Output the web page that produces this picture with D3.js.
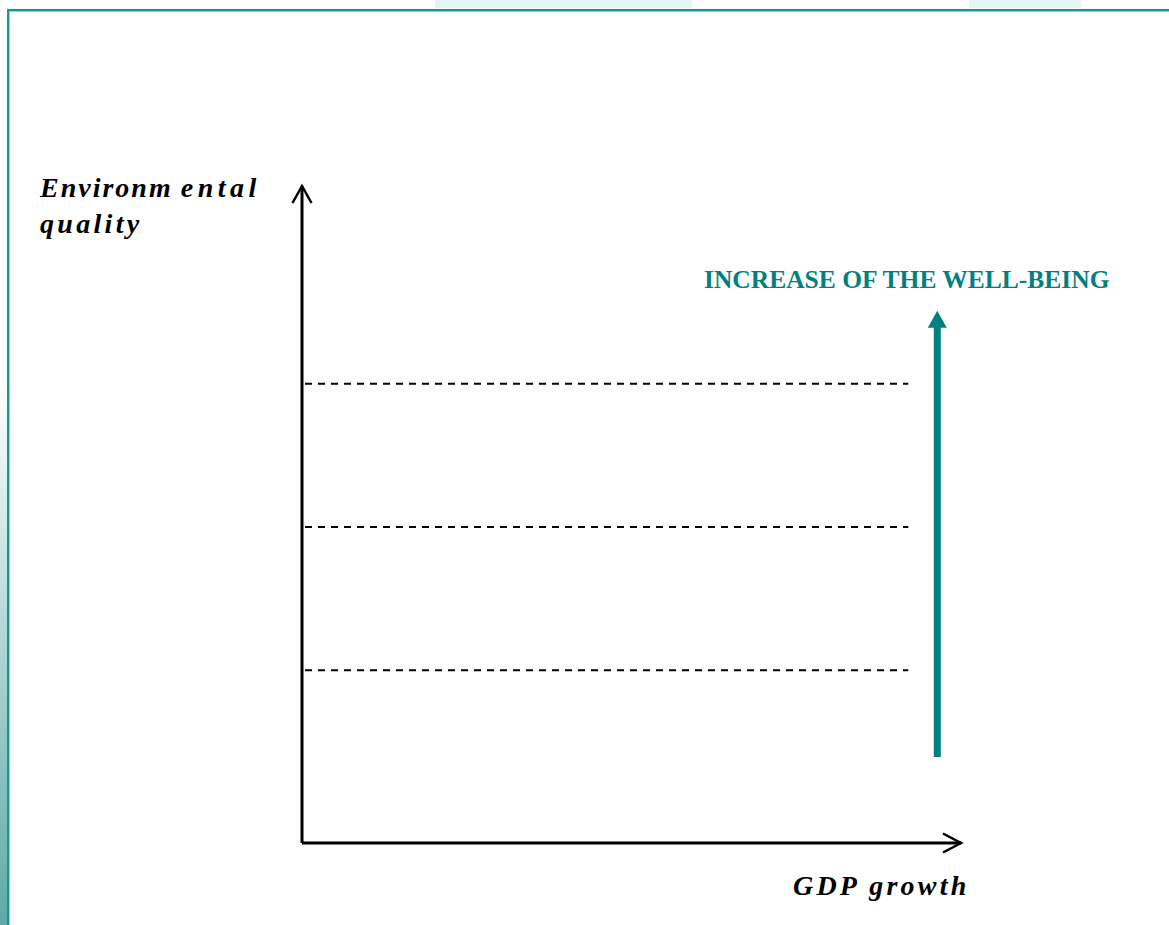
<!DOCTYPE html>
<html>
<head>
<meta charset="utf-8">
<script src="https://cdn.jsdelivr.net/npm/d3@7"></script>
<style>
  html, body { margin: 0; padding: 0; background: #fff; }
  svg { display: block; }
</style>
</head>
<body>
<svg width="1169" height="925"></svg>
<script>
// well-being levels drawn as dashed lines (share of the y axis)
const levels = [0.263, 0.481, 0.699]
const levelEnd = 0.92
// the teal arrow: x position, start and end on the y axis
const arrowX = [0.964]
const arrowY = [0.131, 0.81]
const yLabel = [["Environm", "ental"], ["quality"]]
const xLabel = "GDP growth"
const arrowLabel = "INCREASE OF THE WELL-BEING"

const teal = "#008080"
const serif = "'Liberation Serif', 'Times New Roman', serif"
const svg = d3.select("svg")

const x = d3.scaleLinear().domain([0, 1]).range([302, 961])
const y = d3.scaleLinear().domain([0, 1]).range([843, 186])

// slide frame
const defs = svg.append("defs")
const grad = defs.append("linearGradient").attr("id", "side")
    .attr("x1", 0).attr("y1", 0).attr("x2", 0).attr("y2", 1)
grad.append("stop").attr("offset", "0%").attr("stop-color", "#ffffff")
grad.append("stop").attr("offset", "100%").attr("stop-color", "#5fa9a6")

svg.append("rect").attr("x", 0).attr("y", 380).attr("width", 7).attr("height", 545).attr("fill", "url(#side)")
svg.append("path").attr("d", "M435,0H692V8H435Z").attr("fill", "#e4f5f5")
svg.append("path").attr("d", "M969,0H1081V8H969Z").attr("fill", "#e4f5f5")
svg.append("line").attr("x1", 7).attr("x2", 1169).attr("y1", 10).attr("y2", 10)
    .attr("stroke", "#129a93").attr("stroke-width", 2)
svg.append("line").attr("x1", 9).attr("x2", 1169).attr("y1", 11.5).attr("y2", 11.5)
    .attr("stroke", "#8fd6d2").attr("stroke-width", 1)
svg.append("line").attr("x1", 8).attr("x2", 8).attr("y1", 9).attr("y2", 925)
    .attr("stroke", "#129a93").attr("stroke-width", 2)
svg.append("line").attr("x1", 9.5).attr("x2", 9.5).attr("y1", 11).attr("y2", 925)
    .attr("stroke", "#8fd6d2").attr("stroke-width", 1)

// dashed levels
svg.selectAll(".level").data(levels).enter().append("line")
    .attr("class", "level")
    .attr("x1", x(0) + 3).attr("x2", x(levelEnd))
    .attr("y1", d => y(d)).attr("y2", d => y(d))
    .attr("stroke", "#000").attr("stroke-width", 2)
    .attr("stroke-dasharray", "7,6")

// axes
const axes = svg.append("g").attr("fill", "none").attr("stroke", "#000")
axes.append("path").attr("d", `M${x(0)},${y(0)}V${y(1)}M${x(0)},${y(0)}H${x(1)}`)
    .attr("stroke-width", 3)
axes.append("path").attr("d", `M${x(0) - 9.5},${y(1) + 17}L${x(0)},${y(1)}L${x(0) + 9.5},${y(1) + 17}`)
    .attr("stroke-width", 2.5)
axes.append("path").attr("d", `M${x(1) - 18},${y(0) - 9.5}L${x(1)},${y(0)}L${x(1) - 18},${y(0) + 9.5}`)
    .attr("stroke-width", 2.5)

// teal arrow
svg.append("line")
    .attr("x1", x(arrowX[0])).attr("x2", x(arrowX[0]))
    .attr("y1", y(arrowY[0])).attr("y2", y(arrowY[1]) + 14)
    .attr("stroke", teal).attr("stroke-width", 7)
svg.append("path")
    .attr("d", `M${x(arrowX[0])},${y(arrowY[1])}L${x(arrowX[0]) + 9.5},${y(arrowY[1]) + 17}L${x(arrowX[0]) - 9.5},${y(arrowY[1]) + 17}Z`)
    .attr("fill", teal)

// labels
svg.append("text").attr("x", 704).attr("y", 288)
    .style("font-family", serif)
    .style("font-weight", "bold").style("font-size", "25.5px")
    .attr("fill", teal)
    .text(arrowLabel)

const ylab = svg.selectAll(".ylab").data(yLabel).enter().append("text")
    .attr("class", "ylab")
    .attr("x", 40).attr("y", (d, i) => 197 + i * 36)
    .style("font-family", serif)
    .style("font-weight", "bold").style("font-style", "italic")
    .style("font-size", "28px")
ylab.selectAll("tspan").data(d => d).enter().append("tspan")
    .attr("dx", (d, i) => i === 0 ? 0 : 8)
    .style("letter-spacing", (d, i, n) => n.length === 1 ? "3.3px" : (i === 0 ? "2px" : "4.5px"))
    .text(d => d)

svg.append("text").attr("x", 793).attr("y", 895)
    .style("font-family", serif)
    .style("font-weight", "bold").style("font-style", "italic")
    .style("font-size", "28px").style("letter-spacing", "3.2px")
    .text(xLabel)
</script>
</body>
</html>
